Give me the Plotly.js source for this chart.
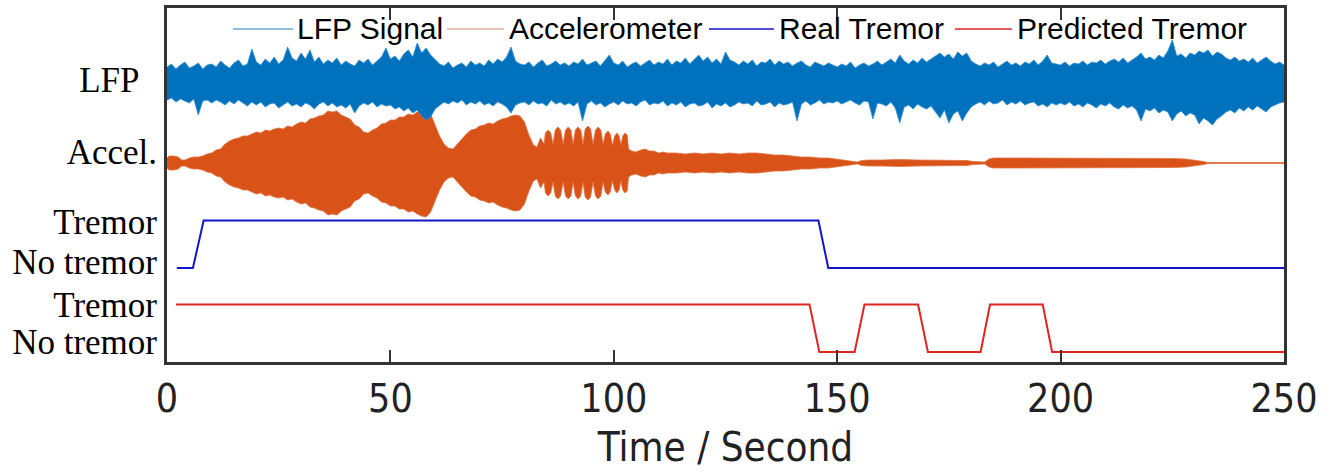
<!DOCTYPE html>
<html><head><meta charset="utf-8">
<script src="https://cdn.plot.ly/plotly-3.0.1.min.js"></script>
<style>html,body{margin:0;padding:0;background:#fff}#chart{width:1335px;height:473px}</style>
</head><body><div id="chart"></div>
<script>
// ---------------- DATA ----------------
const seriesNames = ['LFP Signal', 'Accelerometer', 'Real Tremor', 'Predicted Tremor'];
const xTickVals = [0, 50, 100, 150, 200, 250];
const yLabels = ['LFP\u00a0\u00a0', 'Accel.', 'Tremor', 'No tremor', 'Tremor', 'No tremor'];

// LFP: per-second max (above baseline) and min (below baseline) envelope, t = 0..250 s
const lfpStep = 1;
const lfpUpper = [
16,19,14,18,21,15,17,20,14,18, 19,16,22,18,15,20,23,17,19,34,
21,18,24,20,26,19,23,36,25,22, 30,24,33,21,26,19,23,20,25,18,
22,19,17,23,20,24,18,22,26,35, 24,27,22,29,33,26,40,30,35,28,
23,19,17,21,15,18,20,16,22,18, 20,17,23,19,24,21,26,36,22,19,
18,21,16,20,23,17,19,22,18,20, 17,21,19,24,18,20,22,17,23,28,
20,18,22,16,19,21,17,20,23,18, 21,19,24,18,22,20,25,19,23,28,
22,26,20,24,19,31,23,21,18,22, 19,23,17,21,20,24,18,22,19,21,
17,20,22,18,16,21,19,17,20,18, 16,19,17,21,15,18,20,17,19,22,
18,21,24,20,28,22,19,23,20,25, 21,24,27,30,26,29,24,31,27,30,
22,19,17,20,18,21,16,19,22,18, 20,17,21,19,23,18,22,28,20,19,
18,21,17,20,19,22,18,21,20,23, 19,22,24,21,25,20,23,26,30,24,
26,23,28,25,32,43,27,29,25,30, 28,32,30,33,27,31,29,25,23,26,
22,24,21,25,20,23,26,22,19,21, 18];
const lfpLower = [
17,15,19,16,18,20,16,32,18,17, 20,17,19,22,18,21,17,20,23,19,
22,19,24,21,20,25,22,19,23,21, 24,20,22,26,21,19,23,20,24,22,
25,21,30,23,20,22,19,24,21,23, 22,26,24,28,25,30,27,33,37,34,
26,22,19,21,18,20,17,22,19,21, 18,22,20,23,19,21,24,30,22,20,
19,22,18,21,20,23,17,21,19,22, 20,23,19,38,21,18,22,20,24,21,
19,22,18,21,20,23,19,17,22,20, 21,18,23,20,22,19,24,21,20,23,
22,19,25,21,23,20,24,22,19,21, 20,23,18,22,21,19,24,20,22,21,
19,38,21,18,22,20,17,21,19,20, 18,21,19,17,20,22,18,19,36,20,
21,23,19,25,40,24,22,26,21,24, 26,23,29,35,27,40,31,28,38,30,
24,21,19,22,18,21,20,17,22,19, 21,18,22,20,19,23,21,24,20,22,
20,22,19,23,21,24,20,22,25,21, 23,20,24,26,22,25,23,27,38,26,
28,25,30,27,29,38,31,28,33,30, 32,41,35,38,42,36,33,29,27,30,
25,28,24,27,23,26,29,24,22,20, 19];

// Accelerometer: envelope half-amplitude at the given times (s)
const accTime = [
0,0.5,1.5,2.5,3.3,4,5,6,7,8,9,10,11,12,13,14,15,16,17,18,19,20,21,22,23,24,25,26,27,28,29,
30,31,32,33,34,35,36,37,38,39,40,41,42,43,44,45,46,47,48,49,50,51,52,53,54,55,56,57,58,59,
60,61,62,63,64,65,66,67,68,69,70,71,72,73,74,75,76,77,78,79,80,81,82,82.8,83.6,84.4,
84.7,85.3,85.9,86.4,86.9,87.5,88.1,88.65,89.2,89.8,90.4,90.9,91.4,92.0,92.6,93.1,93.6,94.2,94.8,
95.35,95.9,96.5,97.1,97.6,98.1,98.7,99.2,99.7,100.2,100.7,101.2,101.6,102.0,102.5,103.0,103.3,
104,105,106,107,108,109,110,111,112,114,116,118,120,122,124,126,128,130,132,134,136,138,140,
142,144,146,148,150,152,153.5,154.5,155.5,157,160,164,168,172,176,179,180.5,181.5,183,184,185,
190,195,200,205,210,215,220,225,228,230,232,233,250];
const accAmp = [
5,7,7,6,3,3,5,6,6,7,9,10,13,14,19,22,24,25,27,27,29,31,30,33,32,34,35,34,37,36,39,
41,40,44,45,47,48,52,51,52,48,46,44,38,36,31,30,33,35,39,40,43,43,46,46,49,48,51,53,54,49,
38,27,19,15,14,19,25,29,33,34,37,38,40,39,42,44,45,47,48,47,41,28,18,16,25,19,
30,33,30,19,33,36,33,19,33,36,33,19,33,36,33,19,34,37,34,
19,33,36,33,19,29,32,29,18,27,30,27,18,27,30,28,14,
12,11,13,14,12,12,10,11,10,10,9,10,9,10,9,10,9,10,10,9,8,8,7,
6,6,5,5,4,3,1.5,1,2.5,3,3,3.5,3,3,3,2.5,1.5,1,1,4,5,
5,5,5,5,5,4.5,5,4.5,4,3,1.5,0.5,0.5];

// Tremor state (1 = Tremor, 0 = No tremor)
const realTime = [2.2, 5.8, 8.2, 145.8, 148.0, 250];
const realState = [0, 0, 1, 1, 0, 0];
const predTime = [2.0, 143.8, 146.0, 153.9, 156.1, 168.1, 170.3, 182.1, 184.2, 196.0, 198.1, 250];
const predState = [1, 1, 0, 0, 1, 1, 0, 0, 1, 1, 0, 0];

// ---------------- LAYOUT CONSTANTS ----------------
const colors = {lfp: '#0072BD', lfpEdge: '#2f8ccb', acc: '#D95319', accEdge: '#e0713f', real: '#1414C8', pred: '#E02424'};
const base = {lfp: 279, acc: 199, realLow: 94, predLow: 10};
const stateStep = 47.5;
const yLabelPos = [282, 210.5, 140.5, 100.5, 57, 20.5];
const narrow = 'Liberation Sans Narrow, Arial Narrow, DejaVu Sans Condensed, sans-serif';

const lfpT = lfpUpper.map((_, i) => i * lfpStep);
const traces = [
  {x: accTime, y: accAmp.map(v => base.acc + v), mode: 'lines', line: {color: colors.accEdge, width: 0.8},
   name: seriesNames[1], showlegend: false, hoverinfo: 'skip'},
  {x: accTime, y: accAmp.map(v => base.acc - v), mode: 'lines', line: {color: colors.accEdge, width: 0.8},
   fill: 'tonexty', fillcolor: colors.acc, name: seriesNames[1], showlegend: false, hoverinfo: 'skip'},
  {x: lfpT, y: lfpUpper.map(v => base.lfp + v), mode: 'lines', line: {color: colors.lfpEdge, width: 0.8},
   name: seriesNames[0], showlegend: false, hoverinfo: 'skip'},
  {x: lfpT, y: lfpLower.map(v => base.lfp - v), mode: 'lines', line: {color: colors.lfpEdge, width: 0.8},
   fill: 'tonexty', fillcolor: colors.lfp, name: seriesNames[0], showlegend: false, hoverinfo: 'skip'},
  {x: realTime, y: realState.map(v => base.realLow + v * stateStep), mode: 'lines',
   line: {color: colors.real, width: 2}, name: seriesNames[2], showlegend: false},
  {x: predTime, y: predState.map(v => base.predLow + v * stateStep), mode: 'lines',
   line: {color: colors.pred, width: 2}, name: seriesNames[3], showlegend: false}
];

// manual legend (pixel positions converted to paper coords)
const L = 167, W = 1117, T = 8, H = 354;
const px = p => (p - L) / W, py = p => (T + H - p) / H;
const legendItems = [
  {name: seriesNames[0], color: '#6aa8d4', w: 1.3, x0: 233, x1: 293, tx: 295},
  {name: seriesNames[1], color: '#dcb49c', w: 1.3, x0: 447, x1: 504, tx: 507},
  {name: seriesNames[2], color: colors.real, w: 1.5, x0: 709, x1: 774, tx: 777},
  {name: seriesNames[3], color: colors.pred, w: 1.5, x0: 955, x1: 1012, tx: 1015}
];
const legendY = 29;
const shapes = legendItems.map(it => ({type: 'line', xref: 'paper', yref: 'paper',
  x0: px(it.x0), x1: px(it.x1), y0: py(legendY), y1: py(legendY), line: {color: it.color, width: it.w}}));
const annotations = legendItems.map(it => ({xref: 'paper', yref: 'paper', x: px(it.tx), y: py(legendY),
  xanchor: 'left', yanchor: 'middle', showarrow: false, text: it.name,
  font: {family: 'Liberation Sans, Arial, sans-serif', size: 30, color: '#000'}}));

const layout = {
  width: 1335, height: 473,
  margin: {l: L, r: 1335 - L - W, t: T, b: 473 - T - H},
  paper_bgcolor: '#fff', plot_bgcolor: '#fff',
  showlegend: false, hovermode: false,
  xaxis: {range: [0, 250], tickvals: xTickVals, ticktext: xTickVals.map(String),
    ticks: 'inside', ticklen: 12, tickwidth: 2, tickcolor: '#333',
    showline: true, linewidth: 3, linecolor: '#333', mirror: 'ticks',
    showgrid: false, zeroline: false,
    tickfont: {family: narrow, size: 39, color: '#222'},
    title: {text: 'Time / Second', standoff: 14, font: {family: narrow, size: 40, color: '#222'}}},
  yaxis: {range: [0, H], tickvals: yLabelPos, ticktext: yLabels, ticks: '',
    showline: true, linewidth: 3, linecolor: '#333', mirror: true,
    showgrid: false, zeroline: false,
    tickfont: {family: 'Liberation Serif, Times New Roman, serif', size: 35, color: '#000'}},
  shapes: shapes, annotations: annotations
};
Plotly.newPlot('chart', traces, layout, {displayModeBar: false, staticPlot: true});
</script></body></html>
